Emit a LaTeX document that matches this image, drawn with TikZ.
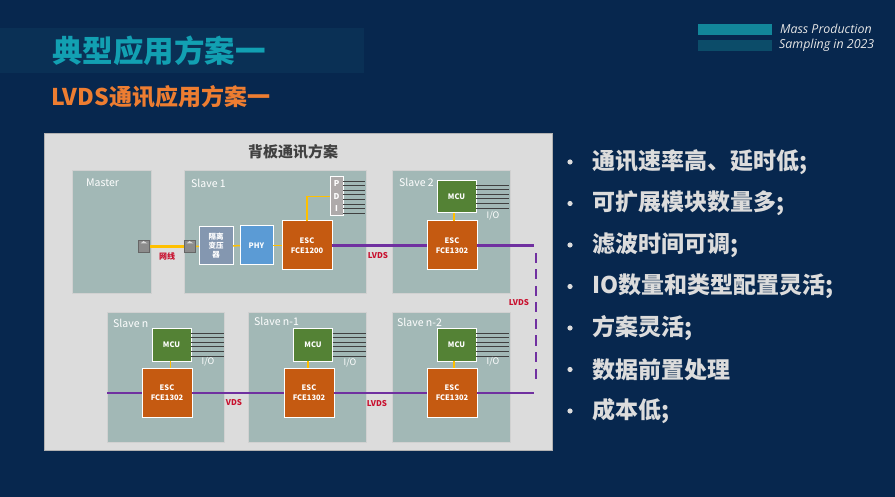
\documentclass[tikz,border=0pt]{standalone}
\usepackage{fontspec}
\setmainfont{Noto Sans CJK SC}
\newfontfamily\tagfont{Open Sans}
\definecolor{pagebg}{HTML}{07274E}
\definecolor{bandbg}{HTML}{0A3055}
\definecolor{titlecol}{HTML}{12A0B2}
\definecolor{subcol}{HTML}{ED7D31}
\definecolor{barone}{HTML}{12869A}
\definecolor{bartwo}{HTML}{0C4C69}
\definecolor{panelcol}{HTML}{DCDCDC}
\definecolor{slavecol}{HTML}{A2B8B6}
\definecolor{esccol}{HTML}{C55A11}
\definecolor{mcucol}{HTML}{548235}
\definecolor{phycol}{HTML}{5B9BD5}
\definecolor{isocol}{HTML}{8497B0}
\definecolor{pdicol}{HTML}{AEAAAA}
\definecolor{netcol}{HTML}{FFC000}
\definecolor{lvdscol}{HTML}{7030A0}
\definecolor{redcol}{HTML}{C8102E}
\definecolor{bulletcol}{HTML}{DCDCDC}
\tikzset{
  box/.style={draw=white,line width=1pt,inner sep=0pt,outer sep=0pt,text=white,align=center,font=\bfseries\fontsize{7.5}{10}\selectfont},
  slavebox/.style={draw=black!18,fill=slavecol,line width=1pt,inner sep=0pt,minimum width=#1,minimum height=123pt},
  esc/.style={box,fill=esccol,minimum width=50pt,minimum height=49pt},
  mcu/.style={box,fill=mcucol,minimum width=39pt,minimum height=32pt},
  port/.style={draw=black!60,fill=black!45,line width=.8pt,inner sep=0pt,minimum size=11.5pt},
  netline/.style={netcol,line width=#1},
  netline/.default=1.5pt,
  lvds/.style={lvdscol,line width=2.8pt},
  ioline/.style={black!75,line width=.9pt},
  slavename/.style={anchor=west,text=white,inner sep=0pt,font=\fontsize{10.5}{12}\selectfont},
  redtag/.style={text=redcol,inner sep=0pt,font=\bfseries\fontsize{8}{10}\selectfont},
  iotag/.style={text=white,inner sep=0pt,font=\fontsize{9}{10}\selectfont},
  bullet/.style={anchor=west,text=bulletcol,inner sep=0pt,font=\bfseries\fontsize{23}{26}\selectfont},
  tag/.style={anchor=west,text=white!90!black,inner sep=0pt,font=\tagfont\itshape\fontsize{12.4}{14}\selectfont}
}
\begin{document}
\begin{tikzpicture}[x=1pt,y=-1pt]
\useasboundingbox (0,0) rectangle (895,497);
\fill[pagebg] (0,0) rectangle (895,497);
\fill[bandbg] (0,28) rectangle (364,73);
\node[anchor=west,text=titlecol,inner sep=0pt,font=\bfseries\fontsize{30.5}{34}\selectfont] (title) at (52,51) {典型应用方案一};
\node[anchor=west,text=subcol,inner sep=0pt,font=\bfseries\fontsize{23}{28}\selectfont] (subtitle) at (51,97) {LVDS通讯应用方案一};
% tag top right
\fill[barone] (698,24) rectangle (772,35);
\fill[bartwo] (698,40) rectangle (772,51);
\node[tag] (tagone) at (780,29) {Mass Production};
\node[tag] (tagtwo) at (779,45) {Sampling in 2023};
% panel
\node[draw=black!30,fill=panelcol,line width=1pt,inner sep=0pt,minimum width=508pt,minimum height=316pt] (panel) at (298,292) {};
\node[text=black!75,inner sep=0pt,font=\bfseries\fontsize{15}{16}\selectfont] (paneltitle) at (293,152) {背板通讯方案};
% slave boxes
\node[slavebox=79pt] (master) at (111.5,232.5) {};
\node[slavebox=182pt] (slaveone) at (275,232.5) {};
\node[slavebox=118pt] (slavetwo) at (451,232.5) {};
\node[slavebox=117pt,minimum height=129pt] (slaven) at (165.5,377.5) {};
\node[slavebox=118pt,minimum height=129pt] (slavenone) at (307,377.5) {};
\node[slavebox=118pt,minimum height=129pt] (slaventwo) at (451,377.5) {};
\node[slavename] (mastername) at (86,183) {Master};
\node[slavename] (onename) at (191,183) {Slave 1};
\node[slavename] (twoname) at (399,182) {Slave 2};
\node[slavename] (nname) at (113,323) {Slave n};
\node[slavename] (nonename) at (254,321) {Slave n-1};
\node[slavename] (ntwoname) at (397,322) {Slave n-2};
% blocks
\node[port] (portm) at (144,246.5) {};
\node[port] (ports) at (190,246.5) {};
\node[box,fill=isocol,minimum width=34pt,minimum height=38pt] (iso) at (216,246) {隔离\\[-1pt]变压\\[-1pt]器};
\node[box,fill=phycol,minimum width=33pt,minimum height=39pt] (phy) at (256.5,245.5) {PHY};
\node[esc] (escone) at (307,245.5) {ESC\\FCE1200};
\node[box,fill=pdicol,minimum width=13pt,minimum height=39pt,font=\bfseries\fontsize{8}{12.5}\selectfont] (pdi) at (336.5,196.5) {P\\D\\I};
\node[esc] (esctwo) at (452,245.5) {ESC\\FCE1302};
\node[mcu] (mcutwo) at (456.5,197) {MCU};
\node[esc] (escn) at (167,393) {ESC\\FCE1302};
\node[mcu] (mcun) at (171.5,345) {MCU};
\node[esc] (escnone) at (309,393) {ESC\\FCE1302};
\node[mcu] (mcunone) at (313,345) {MCU};
\node[esc] (escntwo) at (452,393) {ESC\\FCE1302};
\node[mcu] (mcuntwo) at (456.5,345) {MCU};
% port icons
\foreach \p in {portm,ports}
\fill[white!85!black] ([shift={(-3.5,-3)}]\p.center) -- ++(3,-2.5) -- ++(4,2.5) -- cycle;
% net lines
\draw[netline=3pt] (portm) -- (ports);
\draw[netline] (ports) -- (iso);
\draw[netline] (iso) -- (phy);
\draw[netline] (phy) -- (escone);
\draw[netline] (escone.north) |- (pdi.west);
\draw[netline] (mcutwo.south -| esctwo.north) ++(2,0) -- ++(0,8);
\draw[netline] (mcun.south) ++(-1,0) -- ++(0,7);
\draw[netline] (mcunone.south) ++(-5,0) -- ++(0,7);
\draw[netline] (mcuntwo.south) ++(-2.5,0) -- ++(0,7);
% LVDS lines
\coordinate (rightone) at (534,245.5);
\coordinate (righttwo) at (534,393);
\coordinate (leftend) at (107,393);
\coordinate (dashtop) at (536,253);
\coordinate (dashbot) at (536,385);
\draw[lvds] (escone) -- (esctwo);
\draw[lvds] (esctwo.east) -- (rightone);
\draw[lvds,dash pattern=on 10pt off 6.5pt] (dashtop) -- (dashbot);
\draw[lvds] (escntwo.east) -- (righttwo);
\draw[lvds] (escnone) -- (escntwo);
\draw[lvds] (escn) -- (escnone);
\draw[lvds] (leftend) -- (escn.west);
% I/O lines
\foreach \k in {0,...,7}
\draw[ioline] ([yshift={-(4+4.6*\k)*1pt}]pdi.north east) -- ++(22,0);
\foreach \m in {mcutwo,mcun,mcunone,mcuntwo}
\foreach \k in {0,...,5}
\draw[ioline] ([yshift={-(4+4.6*\k)*1pt}]\m.north east) -- ++(33,0);
\node[iotag] (ioone) at (493,216) {I/O};
\node[iotag] (iotwo) at (208,362) {I/O};
\node[iotag] (iothree) at (350,363) {I/O};
\node[iotag] (iofour) at (493,362) {I/O};
% labels
\node[redtag] (netname) at (167,256) {网线};
\node[redtag] (lvdsa) at (378,256) {LVDS};
\node[redtag] (lvdsb) at (519,303) {LVDS};
\node[redtag] (lvdsc) at (234,403) {VDS};
\node[redtag] (lvdsd) at (377,404) {LVDS};
% bullets
\foreach \i/\t in {0/通讯速率高、延时低;,1/可扩展模块数量多;,2/滤波时间可调;,3/IO数量和类型配置灵活;,4/方案灵活;,5/数据前置处理,6/成本低;}{
\node[bullet] (item\i) at (592,162+41.5*\i) {\t};
\fill[bulletcol] (570,162+41.5*\i) circle (2.6pt);
}
\end{tikzpicture}
\end{document}
